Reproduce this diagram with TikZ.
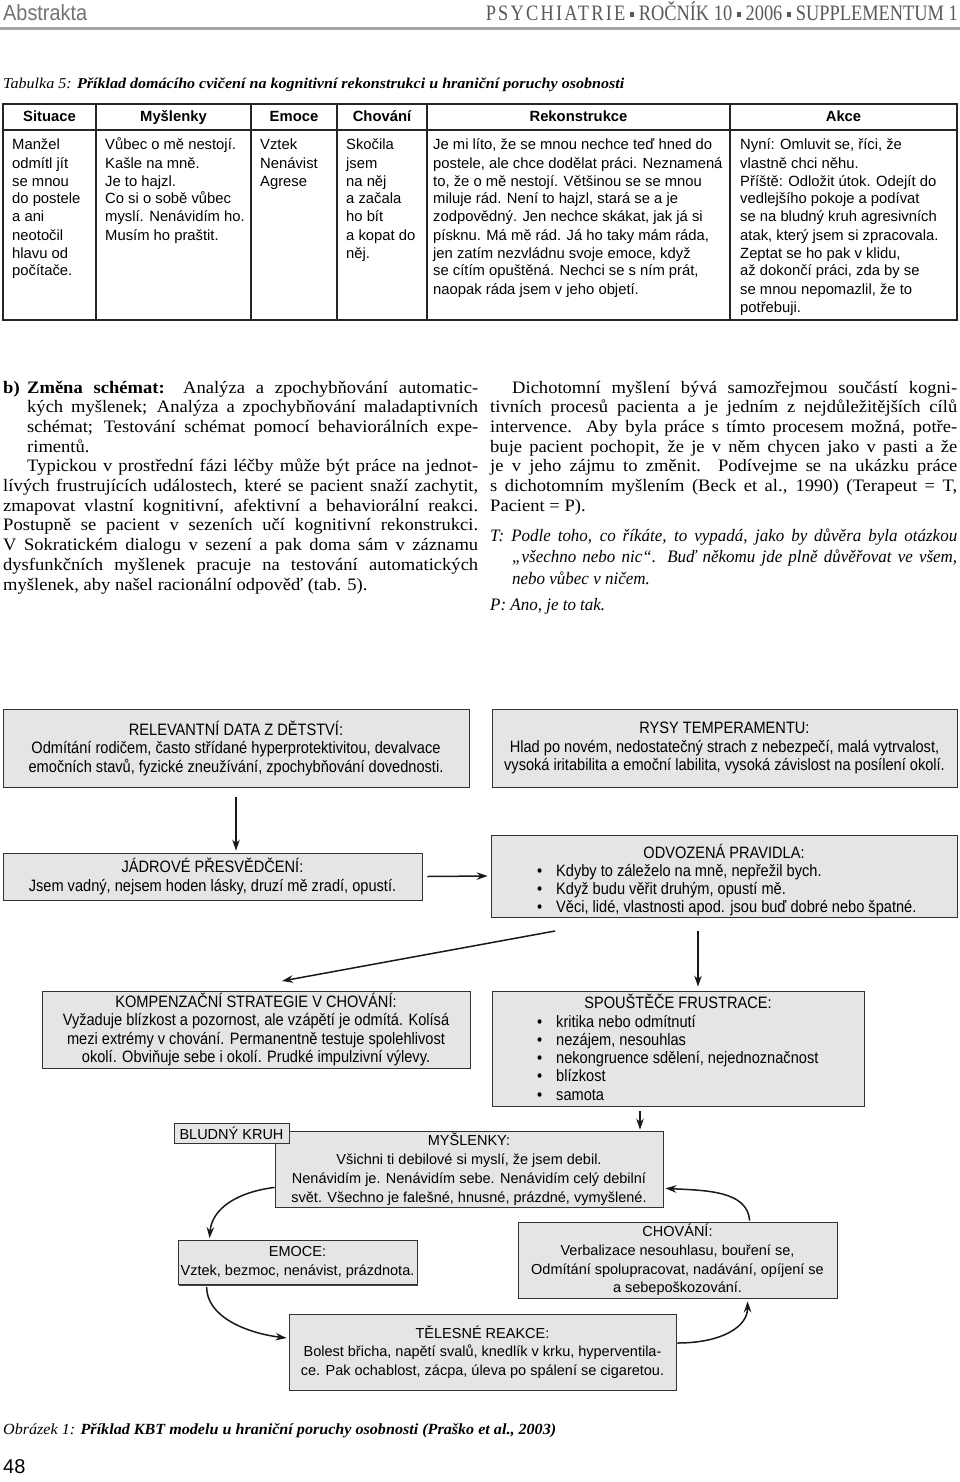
\documentclass[tikz,border=0pt]{standalone}
\usepackage{fontspec}
\usepackage{graphicx}
\setmainfont{Liberation Serif}
\setsansfont{Liberation Sans}
\newfontfamily\bodyserif[FakeStretch=1.06]{Liberation Serif}
\newfontfamily\dlgserif[FakeStretch=0.97]{Liberation Serif}
\newfontfamily\condsans[FakeStretch=0.885]{Liberation Sans}
\usetikzlibrary{shadows,arrows.meta,calc}
\newcommand\bodysetup{\tolerance=9999\pretolerance=-1\hyphenpenalty=10000\exhyphenpenalty=10000\emergencystretch=0pt}
\newcommand\bodyfont{\bodyserif\fontsize{17.5}{19.7}\selectfont\bodysetup}
\newcommand\tcellbox[2]{\parbox[t]{#1}{\sffamily\fontsize{14.8}{18}\selectfont\raggedright #2}}
\newcommand\blist[2]{\parbox[t]{#1}{\condsans\fontsize{16.5}{18.3}\selectfont\raggedright #2}}
\newcommand\hsq{\raisebox{4pt}{\rule{5pt}{5pt}}}
\newcommand\bitem{\makebox[19pt][l]{•}}
\begin{document}
\begin{tikzpicture}[x=1pt,y=-1pt,
  box/.style={draw=black!80, line width=0.8pt, fill=black!10,
    drop shadow={shadow xshift=1.3pt, shadow yshift=-1.3pt, fill=black!75, opacity=1},
    inner sep=0pt, align=center},
  cbox/.style={box, font=\condsans\fontsize{16.5}{18.5}\selectfont},
  sbox/.style={box, font=\sffamily\fontsize{14.5}{18.8}\selectfont},
  arr/.style={-{Stealth[length=11pt,width=7.5pt]}, line width=1.5pt, draw=black!90},
  tline/.style={line width=1.1pt, draw=black!85},
  thead/.style={anchor=base, inner sep=0pt, font=\sffamily\bfseries\fontsize{14.8}{18}\selectfont},
  plain/.style={anchor=base west, inner sep=0pt}]
\fill[white] (0,0) rectangle (960,1482);
\useasboundingbox (0,0) rectangle (960,1482);

% header
\node[plain, text=black!55] (abs) at (3,21) {\resizebox{84pt}{\height}{\sffamily\fontsize{22}{22}\selectfont Abstrakta}};
\node[anchor=base east, inner sep=0pt, text=black!65] (hdr) at (958,21) {\resizebox{472pt}{\height}{\fontsize{22}{22}\selectfont{\addfontfeature{LetterSpace=12}PSYCHIATRIE} \hsq{} ROČNÍK 10 \hsq{} 2006 \hsq{} SUPPLEMENTUM 1}};
\fill[black!35] (0,27) rectangle (960,30);

% table caption
\node[plain] (tcap) at (3,89) {\resizebox{621pt}{\height}{\fontsize{15}{15}\selectfont\textit{Tabulka 5:} \textbf{\textit{Příklad domácího cvičení na kognitivní rekonstrukci u hraniční poruchy osobnosti}}}};

% table
\draw[tline] (3,104) rectangle (957,320);
\draw[tline] (3,130) -- (957,130);
\foreach \x in {96,251,337,427,730} \draw[tline] (\x,104) -- (\x,320);
\node[thead] (h1) at (49.5,122) {Situace};
\node[thead] (h2) at (173.5,122) {Myšlenky};
\node[thead] (h3) at (294,122) {Emoce};
\node[thead] (h4) at (382,122) {Chování};
\node[thead] (h5) at (578.5,122) {Rekonstrukce};
\node[thead] (h6) at (843.5,122) {Akce};

\node[plain] (c1) at (12,150) {\tcellbox{84pt}{Manžel\\odmítl jít\\se mnou\\do postele\\a ani\\neotočil\\hlavu od\\počítače.}};
\node[plain] (c2) at (105,150) {\tcellbox{146pt}{Vůbec o mě nestojí.\\Kašle na mně.\\Je to hajzl.\\Co si o sobě vůbec\\myslí. Nenávidím ho.\\Musím ho praštit.}};
\node[plain] (c3) at (260,150) {\tcellbox{76pt}{Vztek\\Nenávist\\Agrese}};
\node[plain] (c4) at (346,150) {\tcellbox{80pt}{Skočila\\jsem\\na něj\\a začala\\ho bít\\a kopat do\\něj.}};
\node[plain] (c5) at (433,150) {\tcellbox{296pt}{Je mi líto, že se mnou nechce teď hned do\\postele, ale chce dodělat práci. Neznamená\\to, že o mě nestojí. Většinou se se mnou\\miluje rád. Není to hajzl, stará se a je\\zodpovědný. Jen nechce skákat, jak já si\\písknu. Má mě rád. Já ho taky mám ráda,\\jen zatím nezvládnu svoje emoce, když\\se cítím opuštěná. Nechci se s ním prát,\\naopak ráda jsem v jeho objetí.}};
\node[plain] (c6) at (740,150) {\tcellbox{216pt}{Nyní: Omluvit se, říci, že\\vlastně chci něhu.\\Příště: Odložit útok. Odejít do\\vedlejšího pokoje a podívat\\se na bludný kruh agresivních\\atak, který jsem si zpracovala.\\Zeptat se ho pak v klidu,\\až dokončí práci, zda by se\\se mnou nepomazlil, že to\\potřebuji.}};

% body text
\node[plain] (lcol) at (3,393) {\parbox[t]{475pt}{\bodyfont
\hangindent=24pt\hangafter=1\noindent\makebox[24pt][l]{\textbf{b)}}\textbf{Změna schémat:} Analýza a zpochybňování automatic-\linebreak kých myšlenek; Analýza a zpochybňování maladaptivních\linebreak schémat; Testování schémat pomocí behaviorálních expe-\linebreak rimentů.\par
\noindent\hspace*{24pt}Typickou v prostřední fázi léčby může být práce na jednot-\linebreak lívých frustrujících událostech, které se pacient snaží zachytit,\linebreak zmapovat vlastní kognitivní, afektivní a behaviorální reakci.\linebreak Postupně se pacient v sezeních učí kognitivní rekonstrukci.\linebreak V Sokratickém dialogu v sezení a pak doma sám v záznamu\linebreak dysfunkčních myšlenek pracuje na testování automatických\linebreak myšlenek, aby našel racionální odpověď (tab. 5).}};

\node[plain] (rcol) at (490,393) {\parbox[t]{467pt}{\bodyfont
\noindent\hspace*{22pt}Dichotomní myšlení bývá samozřejmou součástí kogni-\linebreak tivních procesů pacienta a je jedním z nejdůležitějších cílů\linebreak intervence. Aby byla práce s tímto procesem možná, potře-\linebreak buje pacient pochopit, že je v něm chycen jako v pasti a že\linebreak je v jeho zájmu to změnit. Podívejme se na ukázku práce\linebreak s dichotomním myšlením (Beck et al., 1990) (Terapeut = T,\linebreak Pacient = P).}};

\node[plain] (dlgT) at (490,541) {\parbox[t]{467pt}{\dlgserif\itshape\fontsize{17.5}{21.5}\selectfont\bodysetup
\hangindent=22pt\hangafter=1\noindent T: Podle toho, co říkáte, to vypadá, jako by důvěra byla otázkou\linebreak „všechno nebo nic“. Buď někomu jde plně důvěřovat ve všem,\linebreak nebo vůbec v ničem.}};
\node[plain] (dlgP) at (490,610) {\dlgserif\itshape\fontsize{17.5}{21.5}\selectfont P: Ano, je to tak.};

% diagram
\node[cbox, minimum width=466pt, minimum height=78pt] (rel) at (236,748) {RELEVANTNÍ DATA Z DĚTSTVÍ:\\Odmítání rodičem, často střídané hyperprotektivitou, devalvace\\emočních stavů, fyzické zneužívání, zpochybňování dovednosti.};
\node[cbox, minimum width=465pt, minimum height=78pt] (rys) at (724.5,748) {RYSY TEMPERAMENTU:\\Hlad po novém, nedostatečný strach z nebezpečí, malá vytrvalost,\\vysoká iritabilita a emoční labilita, vysoká závislost na posílení okolí.};
\node[cbox, minimum width=419pt, minimum height=47pt] (jad) at (212.5,876.5) {JÁDROVÉ PŘESVĚDČENÍ:\\Jsem vadný, nejsem hoden lásky, druzí mě zradí, opustí.};
\node[box, minimum width=466pt, minimum height=82pt] (odv) at (724,876) {};
\node[anchor=base, inner sep=0pt, font=\condsans\fontsize{16.5}{18.5}\selectfont] (odvt) at (724,858) {ODVOZENÁ PRAVIDLA:};
\node[plain] (odvb) at (537,876) {\blist{410pt}{\bitem Kdyby to záleželo na mně, nepřežil bych.\\\bitem Když budu věřit druhým, opustí mě.\\\bitem Věci, lidé, vlastnosti apod. jsou buď dobré nebo špatné.}};
\node[cbox, minimum width=428pt, minimum height=77pt] (kom) at (256,1029.5) {KOMPENZAČNÍ STRATEGIE V CHOVÁNÍ:\\Vyžaduje blízkost a pozornost, ale vzápětí je odmítá. Kolísá\\mezi extrémy v chování. Permanentně testuje spolehlivost\\okolí. Obviňuje sebe i okolí. Prudké impulzivní výlevy.};
\node[box, minimum width=372pt, minimum height=115pt] (spo) at (678,1048.5) {};
\node[anchor=base, inner sep=0pt, font=\condsans\fontsize{16.5}{18.5}\selectfont] (spot) at (678,1008) {SPOUŠTĚČE FRUSTRACE:};
\node[plain] (spob) at (537,1027) {\blist{320pt}{\bitem kritika nebo odmítnutí\\\bitem nezájem, nesouhlas\\\bitem nekongruence sdělení, nejednoznačnost\\\bitem blízkost\\\bitem samota}};

\node[sbox, minimum width=388pt, minimum height=76pt] (mys) at (469,1169) {MYŠLENKY:\\Všichni ti debilové si myslí, že jsem debil.\\Nenávidím je. Nenávidím sebe. Nenávidím celý debilní\\svět. Všechno je falešné, hnusné, prázdné, vymyšlené.};
\node[sbox, minimum width=115pt, minimum height=20pt] (blu) at (231.5,1133) {BLUDNÝ KRUH};
\node[sbox, minimum width=239pt, minimum height=44pt] (emo) at (297.5,1262.5) {EMOCE:\\Vztek, bezmoc, nenávist, prázdnota.};
\node[sbox, minimum width=319pt, minimum height=76pt] (cho) at (677.5,1260) {CHOVÁNÍ:\\Verbalizace nesouhlasu, bouření se,\\Odmítání spolupracovat, nadávání, opíjení se\\a sebepoškozování.};
\node[sbox, minimum width=387pt, minimum height=76pt] (tel) at (482.5,1352) {TĚLESNÉ REAKCE:\\Bolest břicha, napětí svalů, knedlík v krku, hyperventila-\\ce. Pak ochablost, zácpa, úleva po spálení se cigaretou.};

% connectors
\coordinate (a1) at ($(rel.south)+(0,10)$);
\draw[arr] (a1) -- ($(rel.south |- jad.north)+(0,-2)$);
\draw[arr] ($(jad.east)+(5,0)$) -- ($(odv.west)+(-3,0)$);
\coordinate (d1) at (555,931);
\coordinate (d2) at (282,981);
\draw[arr] (d1) -- (d2);
\coordinate (v1) at (698,931);
\draw[arr] (v1) -- ($(v1 |- spo.north)+(0,-4)$);
\coordinate (s1) at (640,1111);
\draw[arr] (s1) -- ($(s1 |- mys.north)+(0,-1)$);
\draw[arr] ($(mys.south west)+(0,-20)$) .. controls +(-40,5) and +(2,-28) .. ($(emo.north west)+(32,-2)$);
\draw[arr] ($(emo.south west)+(29,2)$) .. controls +(0,30) and +(-40,-5) .. ($(tel.west)+(-2,-14)$);
\draw[arr] ($(tel.east)+(1,-9)$) .. controls +(45,0) and +(0,25) .. ($(cho.south west)+(230,3)$);
\draw[arr] ($(cho.north west)+(232,-1)$) .. controls +(-2,-30) and +(40,2) .. ($(mys.south east)+(2,-19)$);

% figure caption and page number
\node[plain] (fcap) at (3,1434) {\resizebox{553pt}{\height}{\fontsize{15.5}{15.5}\selectfont\textit{Obrázek 1:} \textbf{\textit{Příklad KBT modelu u hraniční poruchy osobnosti (Praško et al., 2003)}}}};
\node[plain] (pnum) at (3,1473) {\sffamily\fontsize{20}{20}\selectfont 48};
\end{tikzpicture}
\end{document}
